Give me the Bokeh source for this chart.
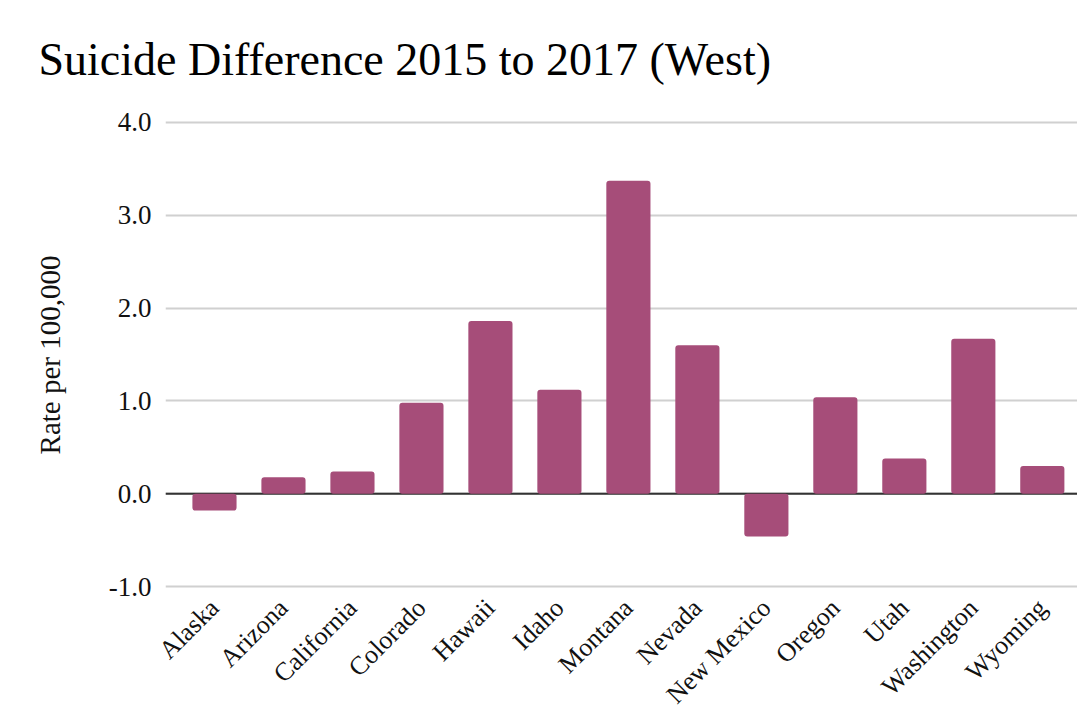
import math

from bokeh.embed import file_html
from bokeh.models import ColumnDataSource, FixedTicker, NumeralTickFormatter, Range1d, Span
from bokeh.plotting import figure
from bokeh.resources import INLINE

# Change in suicide rate per 100,000 between 2015 and 2017, western states
states = ["Alaska", "Arizona", "California", "Colorado", "Hawaii", "Idaho",
          "Montana", "Nevada", "New Mexico", "Oregon", "Utah", "Washington", "Wyoming"]
rate_change = [-0.18, 0.18, 0.24, 0.98, 1.86, 1.12, 3.37, 1.60, -0.46, 1.04, 0.38, 1.67, 0.30]
y_ticks = [-1, 0, 1, 2, 3, 4]

FONT = "Liberation Serif"
BAR_COLOR = "#a64d79"
TEXT_COLOR = "#111111"

positions = list(range(len(states)))
source = ColumnDataSource(dict(x=positions, state=states, rate=rate_change))

p = figure(
    width=1077, height=722,
    output_backend="svg", toolbar_location=None,
    x_range=Range1d(-0.71, len(states) - 1 + 0.51),
    y_range=Range1d(-1.03, 4.02),
    min_border_left=165, min_border_right=0,
    min_border_top=120, min_border_bottom=132,
)
p.outline_line_color = None
p.background_fill_color = "white"
p.border_fill_color = "white"

# title
p.title.text = "Suicide Difference 2015 to 2017 (West)"
p.title.text_font = FONT
p.title.text_font_size = "46px"
p.title.text_font_style = "normal"
p.title.text_color = "#000000"
p.title.align = "left"
p.title.vertical_align = "top"
p.title.offset = -127
p.title.standoff = 67

# bars
p.vbar(x="x", top="rate", bottom=0, width=0.64, source=source,
       fill_color=BAR_COLOR, line_color=None, border_radius=3)

# zero baseline
p.add_layout(Span(location=0, dimension="width", line_color="#333333",
                  line_width=2, level="underlay"))

# grid
p.xgrid.visible = False
p.ygrid.ticker = FixedTicker(ticks=y_ticks)
p.ygrid.grid_line_color = "#d0d0d0"
p.ygrid.grid_line_width = 2

# y axis
yax = p.yaxis[0]
yax.ticker = FixedTicker(ticks=y_ticks)
yax.formatter = NumeralTickFormatter(format="0.0")
yax.axis_line_color = None
yax.major_tick_line_color = None
yax.minor_tick_line_color = None
yax.major_label_text_font = FONT
yax.major_label_text_font_size = "27px"
yax.major_label_text_color = TEXT_COLOR
yax.major_label_standoff = 8
yax.axis_label = "Rate per 100,000"
yax.axis_label_text_font = FONT
yax.axis_label_text_font_size = "29px"
yax.axis_label_text_font_style = "normal"
yax.axis_label_text_color = TEXT_COLOR
yax.axis_label_standoff = 40

# x axis with state names
xax = p.xaxis[0]
xax.ticker = FixedTicker(ticks=positions)
xax.major_label_overrides = {i: s for i, s in zip(positions, states)}
xax.major_label_orientation = math.pi / 4
xax.axis_line_color = None
xax.major_tick_line_color = None
xax.minor_tick_line_color = None
xax.major_label_text_font = FONT
xax.major_label_text_font_size = "26px"
xax.major_label_text_color = TEXT_COLOR
xax.major_label_standoff = 8

open("out.html", "w").write(file_html(p, INLINE))
